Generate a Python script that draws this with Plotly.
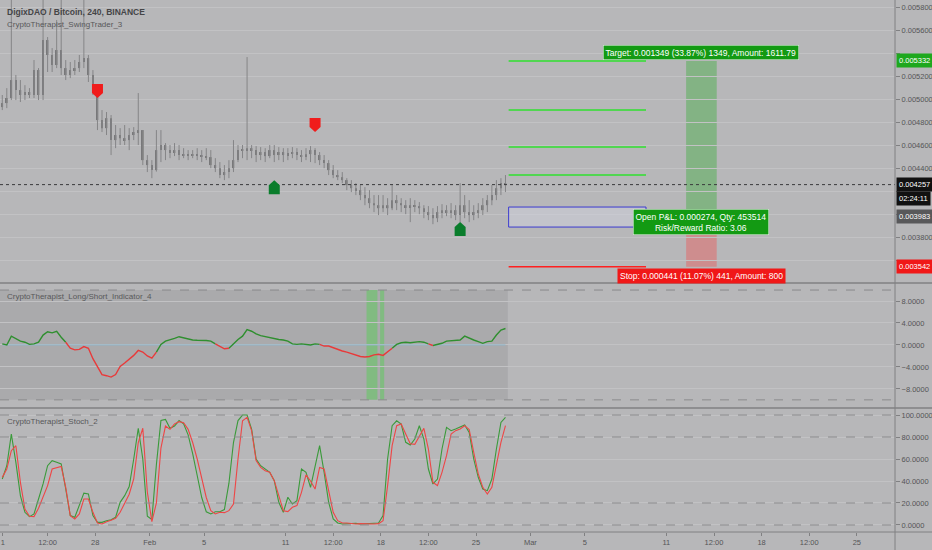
import numpy as np
import plotly.graph_objects as go

# ---------------- colours ----------------
BG = "#b7b7b9"
GRID = "#c2c2c4"
AXIS_LINE = "#808082"
TEXT = "#555557"
WICK = "#858587"
BODY = "#78787a"
GREEN_TAG = "#139a13"
RED_TAG = "#f01818"
LINE_GREEN = "#2f8f2f"
LINE_RED = "#e83a3a"
FONT = "Liberation Sans, Arial, sans-serif"

W, H = 932, 550
AX_X = 895 / W            # right price axis position (paper)
PX_PER_DAY = 13.6

# ---------------- data ----------------
# 8h bars from Jan 21, prices in micro-BTC (1e-6)
BARS_PER_DAY = 3
first_open_u = 4931
high_u = [5036, 5096, 5900, 5210, 5166, 5122, 5096, 5340, 5270, 5900,
          5540, 5444, 5688, 5900, 5340, 5323, 5340, 5384, 5900, 5384,
          5253, 5079, 4905, 4888, 4862, 4775, 4748, 4775, 4748, 4757,
          5053, 4731, 4514, 4470, 4731, 4731, 4618, 4601, 4618, 4601,
          4574, 4557, 4557, 4574, 4557, 4574, 4557, 4487, 4453, 4427,
          4470, 4644, 4601, 4601, 5366, 4601, 4592, 4583, 4574, 4601,
          4601, 4583, 4574, 4574, 4583, 4574, 4557, 4574, 4592, 4574,
          4540, 4514, 4470, 4427, 4383, 4366, 4313, 4296, 4270, 4253,
          4235, 4209, 4166, 4166, 4166, 4139, 4253, 4166, 4139, 4122,
          4139, 4122, 4105, 4078, 4070, 4052, 4070, 4087, 4078, 4096,
          4078, 4270, 4166, 4122, 4078, 4096, 4139, 4166, 4253, 4296,
          4313, 4340]
low_u = [4905, 4922, 4992, 4992, 4975, 4992, 5010, 5010, 4992, 4992,
         5236, 5236, 5270, 5210, 5166, 5183, 5210, 5236, 5270, 5149,
         5036, 4731, 4714, 4688, 4514, 4574, 4601, 4601, 4557, 4644,
         4601, 4427, 4366, 4313, 4370, 4453, 4470, 4487, 4505, 4470,
         4487, 4470, 4487, 4470, 4453, 4470, 4400, 4366, 4313, 4296,
         4313, 4366, 4453, 4487, 4470, 4487, 4453, 4470, 4453, 4487,
         4453, 4470, 4453, 4470, 4487, 4470, 4453, 4470, 4453, 4444,
         4427, 4400, 4340, 4313, 4296, 4270, 4209, 4192, 4166, 4122,
         4078, 4052, 4018, 3992, 4018, 3992, 4035, 4035, 4018, 4000,
         3931, 4018, 4000, 3965, 3948, 3913, 3931, 3965, 3983, 3965,
         3948, 3931, 3965, 3931, 3948, 3965, 3992, 4018, 4078, 4122,
         4166, 4192]
close_u = [4966, 5010, 5166, 5079, 5036, 5062, 5036, 5253, 5036, 5514,
           5384, 5297, 5427, 5270, 5210, 5253, 5270, 5323, 5357, 5210,
           5079, 4818, 4748, 4835, 4644, 4688, 4661, 4644, 4688, 4714,
           4731, 4470, 4427, 4383, 4557, 4601, 4557, 4540, 4557, 4514,
           4514, 4514, 4522, 4514, 4505, 4496, 4427, 4400, 4340, 4366,
           4400, 4470, 4557, 4557, 4574, 4557, 4514, 4540, 4505, 4557,
           4514, 4540, 4514, 4531, 4540, 4514, 4505, 4522, 4557, 4514,
           4470, 4444, 4383, 4340, 4322, 4296, 4253, 4226, 4209, 4166,
           4139, 4096, 4078, 4052, 4078, 4052, 4122, 4096, 4078, 4061,
           4078, 4070, 4052, 4018, 3992, 3965, 4018, 4035, 4018, 4035,
           3992, 4078, 4018, 3992, 4018, 4035, 4078, 4122, 4166, 4226,
           4270, 4257]

# swing trader signals (bar index, price in micro-BTC)
sell_idx = [21, 69]
sell_price_u = [5010, 4714]
buy_idx = [60, 101]
buy_price_u = [4296, 3931]

# trade plan (micro-BTC), drawn to the right of the last bar
entry_u = 3983
entry_zone_u = [3888, 4062]
targets_u = [5332, 4905, 4583, 4340]
stop_u = 3542
plan_days = [37.4, 47.5]
rr_days = [50.45, 52.7]
target_text = "Target: 0.001349 (33.87%) 1349, Amount: 1611.79"
pnl_text = "Open P&L: 0.000274, Qty: 453514<br>Risk/Reward Ratio: 3.06"
stop_text = "Stop: 0.000441 (11.07%) 441, Amount: 800"
countdown = "02:24:11"

# long/short indicator
ls_vals = [0.2, 0.0, 1.6, 1.2, 0.7, 0.5, 0.1, 0.2, 0.5, 1.8,
           2.4, 2.2, 2.5, 1.4, 0.5, -0.6, -0.9, -0.8, -0.3, -0.6,
           -2.5, -4.1, -5.4, -5.6, -5.85, -5.4, -3.9, -3.3, -2.6, -1.9,
           -1.0, -1.3, -2.0, -2.4, -1.3, 0.1, 0.7, 0.9, 1.2, 1.5,
           1.3, 1.1, 0.9, 0.85, 0.85, 0.8, 0.7, 0.2, -0.3, -0.7,
           -0.6, 0.3, 1.0, 1.6, 2.8, 2.5, 2.0, 1.7, 1.5, 1.3,
           1.2, 1.0, 0.9, 0.7, 0.2, 0.1, 0.2, 0.1, 0.0, 0.2,
           0.1, -0.2, -0.2, -0.5, -0.9, -1.1, -1.3, -1.6, -1.9, -2.1,
           -2.2, -2.1, -1.8, -1.7, -1.9, -1.2, -0.6, 0.1, 0.4, 0.5,
           0.4, 0.5, 0.6, 0.5, 0.2, -0.1, 0.1, 0.3, 0.7, 0.8,
           0.8, 0.9, 1.6, 1.2, 0.9, 0.6, 0.3, 0.6, 0.7, 1.8,
           2.7, 3.0]
ls_bands = [10, -10]
highlight_from = [26.95, 27.95]
highlight_to = [27.75, 28.25]

# stochastic %K (green) and %D (red)
stoch_k = [41.8, 53.9, 82.7, 57, 26.7, 11.5, 7.6, 10, 23.6, 37.3,
           53.9, 58.5, 57, 55.5, 32.7, 8.5, 7, 17.6, 29, 28.2,
           8.5, 2.4, 2.4, 3.9, 4.8, 7, 20.6, 26.7, 35, 60,
           88, 60, 8, 5, 55, 95, 96, 88, 90, 95,
           92, 82, 65, 45, 25, 12, 10, 12, 12, 14,
           38, 75, 95, 100, 100, 87.3, 60, 53.9, 50.9, 47.9,
           40.3, 20.6, 11.5, 25.2, 19.1, 22.1, 50.9, 47.9, 34.2, 52.4,
           72.1, 47.9, 20.6, 5.5, 1.8, 0.9, 1.2, 0.9, 1.5, 0.9,
           1.2, 0.9, 1.2, 1.8, 8.5, 60, 90.3, 94.8, 91.8, 75.2,
           72.7, 78.2, 90.3, 78.2, 50.9, 37.3, 41.8, 69.1, 88.8, 85.8,
           87.3, 88.8, 90.9, 84.2, 60, 43.3, 32.7, 31.2, 41.8, 69.1,
           93.3, 97.9]
stoch_d = [43.3, 50.9, 67.6, 72.1, 38.8, 14.5, 7.9, 7.6, 15.2, 25.2,
           35.8, 50.9, 52.4, 53.3, 34.2, 8.5, 5.5, 10, 23.6, 23.6,
           11.5, 1.8, 0.9, 3, 4.2, 6.1, 11.5, 19.1, 28, 42,
           75, 88, 30, 3, 20, 70, 90, 87, 92, 94,
           93, 87, 75, 60, 42, 25, 13, 10, 11.5, 11.2,
           13, 19.1, 60, 94.8, 97.9, 85.8, 58.5, 52.4, 49.4, 47.9,
           40.3, 26.7, 13, 12.1, 16.1, 17.6, 29.7, 45.5, 40, 32.7,
           52.4, 50.9, 31.2, 11.5, 3.9, 1.8, 1.8, 1.2, 0.9, 1.2,
           0.9, 1.2, 0.9, 1.2, 3.9, 35.8, 72.1, 90.3, 91.8, 82.7,
           73.9, 73.3, 80.3, 87.9, 69.1, 38.8, 35.8, 47.9, 63, 82.7,
           85.8, 87.3, 90.3, 86.7, 66.1, 46.4, 34.2, 28.2, 34.2, 53.9,
           75.2, 90.3]
stoch_bands = [100, 80, 20, 0]

# axis labels
price_ticks_u = [3600, 3800, 4000, 4200, 4400, 4600, 4800, 5000, 5200, 5400, 5600, 5800]
tick_days = [0.2, 3.5, 7, 11, 15, 21, 24.5, 28, 31.5, 35, 39, 43, 49, 52.5, 56, 59.5, 63]
tick_text = ["1", "12:00", "28", "Feb", "5", "11", "12:00", "18", "12:00", "25",
             "Mar", "5", "11", "12:00", "18", "12:00", "25"]

# ---------------- build ----------------
U = 1e-6
n = len(close_u)
x_days = (np.arange(n) + 0.5) / BARS_PER_DAY
close = np.array(close_u) * U
open_ = np.array([first_open_u] + close_u[:-1]) * U
high = np.array(high_u) * U
low = np.array(low_u) * U
last = close[-1]

MAIN = [1 - 281 / H, 1.0]
IND = [1 - 407 / H, 1 - 284 / H]
STO = [1 - 532 / H, 1 - 409 / H]

fig = go.Figure()

# candles: thin wicks plus narrow bodies
wx, wy = [], []
for xi, lo, hi in zip(x_days, low, high):
    wx += [xi, xi, None]
    wy += [lo, hi, None]
fig.add_trace(go.Scatter(x=wx, y=wy, mode="lines", line=dict(color=WICK, width=1),
                         xaxis="x", yaxis="y", hoverinfo="skip"))
body_lo = np.minimum(open_, close)
body_h = np.maximum(np.abs(close - open_), 3 * U)
fig.add_trace(go.Bar(x=x_days, y=body_h, base=body_lo, width=0.12,
                     marker=dict(color=BODY, line=dict(width=0)),
                     xaxis="x", yaxis="y", hoverinfo="skip"))


def split_by_sign(xs, vs):
    gx, gy, rx, ry = [], [], [], []
    for k in range(len(vs)):
        pos = vs[k] >= 0
        tx, ty = (gx, gy) if pos else (rx, ry)
        if k > 0 and (vs[k - 1] >= 0) != pos:
            tx.append(None); ty.append(None)
            tx.append(xs[k - 1]); ty.append(vs[k - 1])
        tx.append(xs[k]); ty.append(vs[k])
    return gx, gy, rx, ry


gx, gy, rx, ry = split_by_sign(list(x_days), ls_vals)
fig.add_trace(go.Scatter(x=[x_days[0], x_days[-1]], y=[0, 0], mode="lines",
                         line=dict(color="#8db6cc", width=1), xaxis="x", yaxis="y2",
                         hoverinfo="skip"))
fig.add_trace(go.Scatter(x=gx, y=gy, mode="lines", line=dict(color=LINE_GREEN, width=1.4),
                         xaxis="x", yaxis="y2", hoverinfo="skip"))
fig.add_trace(go.Scatter(x=rx, y=ry, mode="lines", line=dict(color=LINE_RED, width=1.4),
                         xaxis="x", yaxis="y2", hoverinfo="skip"))

fig.add_trace(go.Scatter(x=x_days, y=stoch_k, mode="lines", line=dict(color="#3a9a3a", width=1.1),
                         xaxis="x", yaxis="y3", hoverinfo="skip"))
fig.add_trace(go.Scatter(x=x_days, y=stoch_d, mode="lines", line=dict(color="#ee4646", width=1.1),
                         xaxis="x", yaxis="y3", hoverinfo="skip"))

shapes = []
# indicator background fill where data exists
shapes.append(dict(type="rect", xref="x", yref="y2", x0=0, x1=x_days[-1] + 0.17,
                   y0=min(ls_bands), y1=max(ls_bands), fillcolor="rgba(110,110,115,0.18)",
                   line=dict(width=0), layer="below"))
for a, b in zip(highlight_from, highlight_to):
    shapes.append(dict(type="rect", xref="x", yref="y2", x0=a, x1=b,
                       y0=min(ls_bands), y1=max(ls_bands), fillcolor="rgba(95,200,95,0.55)",
                       line=dict(width=0), layer="below"))
for v in ls_bands:
    shapes.append(dict(type="line", xref="paper", yref="y2", x0=0, x1=AX_X, y0=v, y1=v,
                       line=dict(color="#8a8a8c", width=1, dash="dash")))
for v in stoch_bands:
    shapes.append(dict(type="line", xref="paper", yref="y3", x0=0, x1=AX_X, y0=v, y1=v,
                       line=dict(color="#8a8a8c", width=1, dash="dash")))

# trade plan drawing
shapes.append(dict(type="rect", xref="x", yref="y", x0=rr_days[0], x1=rr_days[1],
                   y0=entry_u * U, y1=targets_u[0] * U, fillcolor="rgba(80,175,80,0.5)",
                   line=dict(width=0), layer="below"))
shapes.append(dict(type="rect", xref="x", yref="y", x0=rr_days[0], x1=rr_days[1],
                   y0=stop_u * U, y1=entry_u * U, fillcolor="rgba(235,90,90,0.45)",
                   line=dict(width=0), layer="below"))
shapes.append(dict(type="rect", xref="x", yref="y", x0=plan_days[0], x1=plan_days[1],
                   y0=entry_zone_u[0] * U, y1=entry_zone_u[1] * U,
                   fillcolor="rgba(205,208,218,0.55)", line=dict(color="#3b3bd0", width=1)))
for t in targets_u:
    shapes.append(dict(type="line", xref="x", yref="y", x0=plan_days[0], x1=plan_days[1],
                       y0=t * U, y1=t * U, line=dict(color="#2fe02f", width=1.5)))
shapes.append(dict(type="line", xref="x", yref="y", x0=plan_days[0], x1=plan_days[1],
                   y0=stop_u * U, y1=stop_u * U, line=dict(color="#ff2020", width=1.5)))

# current price dotted line
shapes.append(dict(type="line", xref="paper", yref="y", x0=0, x1=AX_X, y0=last, y1=last,
                   line=dict(color="#3a3a3c", width=1, dash="dot")))

# signal arrows
for idx, p in zip(sell_idx, sell_price_u):
    shapes.append(dict(type="path", xref="x", yref="y", xsizemode="pixel", ysizemode="pixel",
                       xanchor=x_days[idx], yanchor=p * U,
                       path="M0,0 L-5.5,5 L-5.5,14 L5.5,14 L5.5,5 Z",
                       fillcolor="#f01c1c", line=dict(width=0)))
for idx, p in zip(buy_idx, buy_price_u):
    shapes.append(dict(type="path", xref="x", yref="y", xsizemode="pixel", ysizemode="pixel",
                       xanchor=x_days[idx], yanchor=p * U,
                       path="M0,0 L-5.5,-5 L-5.5,-14 L5.5,-14 L5.5,-5 Z",
                       fillcolor="#0a7d2c", line=dict(width=0)))

# pane separators and axis lines
for yp in [1 - 283 / H, 1 - 408 / H]:
    shapes.append(dict(type="line", xref="paper", yref="paper", x0=0, x1=1, y0=yp, y1=yp,
                       line=dict(color="#8e8e90", width=2)))
shapes.append(dict(type="line", xref="paper", yref="paper", x0=0, x1=1, y0=STO[0], y1=STO[0],
                   line=dict(color=AXIS_LINE, width=1)))
shapes.append(dict(type="line", xref="paper", yref="paper", x0=AX_X, x1=AX_X, y0=0, y1=1,
                   line=dict(color=AXIS_LINE, width=1)))

ann = []


def pane_title(text, ypx, bold=False, size=8):
    ann.append(dict(xref="paper", yref="paper", x=5 / W, y=1 - ypx / H, xanchor="left",
                    yanchor="middle", showarrow=False,
                    text=f"<b>{text}</b>" if bold else text,
                    font=dict(family=FONT, size=size, color="#454547" if bold else "#58585a")))


pane_title("DigixDAO / Bitcoin, 240, BINANCE", 12, bold=True, size=8.5)
pane_title("CryptoTherapist_SwingTrader_3", 24)
pane_title("CryptoTherapist_Long/Short_Indicator_4", 296)
pane_title("CryptoTherapist_Stoch_2", 421)

tag_values = []


def price_tag(value, bg, yshift=0, text=None):
    tag_values.append(value)
    ann.append(dict(xref="paper", yref="y", x=896 / W, y=value, xanchor="left", yanchor="middle",
                    yshift=yshift, showarrow=False, text=text or f"{value:.6f}",
                    bgcolor=bg, borderpad=2, font=dict(family=FONT, size=7.5, color="white")))


price_tag(targets_u[0] * U, "#1ea81e")
price_tag(last, "#111111")
price_tag(last, "#111111", yshift=-14, text=countdown)
price_tag(entry_u * U, "#58585a")
price_tag(stop_u * U, RED_TAG)

# price axis labels hidden where a tag sits on top of them (as on the terminal)
price_tickvals = [v * U for v in price_ticks_u]
price_ticktext = ["" if min(abs(v - t) for t in tag_values) < 0.00009 else f"{v:.6f}"
                  for v in price_tickvals]

rr_mid = (rr_days[0] + rr_days[1]) / 2
ann.append(dict(xref="x", yref="y", x=rr_mid, y=targets_u[0] * U, yanchor="bottom", yshift=1,
                showarrow=False, text=target_text, bgcolor=GREEN_TAG, borderpad=2,
                bordercolor="#e8f5e8", borderwidth=0.5,
                font=dict(family=FONT, size=8.5, color="white")))
ann.append(dict(xref="x", yref="y", x=rr_mid, y=entry_u * U, yanchor="middle", yshift=-6,
                showarrow=False, text=pnl_text, bgcolor=GREEN_TAG, borderpad=2,
                bordercolor="#e8f5e8", borderwidth=0.5,
                font=dict(family=FONT, size=8.5, color="white")))
ann.append(dict(xref="x", yref="y", x=rr_mid, y=stop_u * U, yanchor="top", yshift=-1,
                showarrow=False, text=stop_text, bgcolor=RED_TAG, borderpad=2,
                font=dict(family=FONT, size=8.5, color="white")))

yax_common = dict(side="right", anchor="x", showgrid=True, gridcolor=GRID, gridwidth=1,
                  zeroline=False, ticks="outside", ticklen=4, tickcolor=AXIS_LINE,
                  tickfont=dict(family=FONT, size=7.5, color=TEXT), fixedrange=True)

fig.update_layout(
    width=W, height=H,
    margin=dict(l=0, r=0, t=0, b=0),
    paper_bgcolor=BG, plot_bgcolor=BG,
    showlegend=False,
    xaxis=dict(domain=[0, AX_X], anchor="y3", range=[0, AX_X * W / PX_PER_DAY],
               tickvals=tick_days, ticktext=tick_text, ticks="outside", ticklen=3,
               tickcolor=AXIS_LINE, tickfont=dict(family=FONT, size=7.5, color=TEXT),
               ticklabeloverflow="allow", showgrid=False, zeroline=False, fixedrange=True),
    yaxis=dict(domain=MAIN, range=[3419 * U, 5862 * U], tickvals=price_tickvals,
               ticktext=price_ticktext, **yax_common),
    yaxis2=dict(domain=IND, range=[-11.3, 11.1], tickvals=[-8, -4, 0, 4, 8],
                tickformat=".4f", **yax_common),
    yaxis3=dict(domain=STO, range=[-6.4, 105.5], tickvals=[0, 20, 40, 60, 80, 100],
                tickformat=".4f", **yax_common),
    shapes=shapes,
    annotations=ann,
)

fig.write_html("out.html", config={"displayModeBar": False},
               post_script="document.body.style.margin='0';document.body.style.overflow='hidden';")
